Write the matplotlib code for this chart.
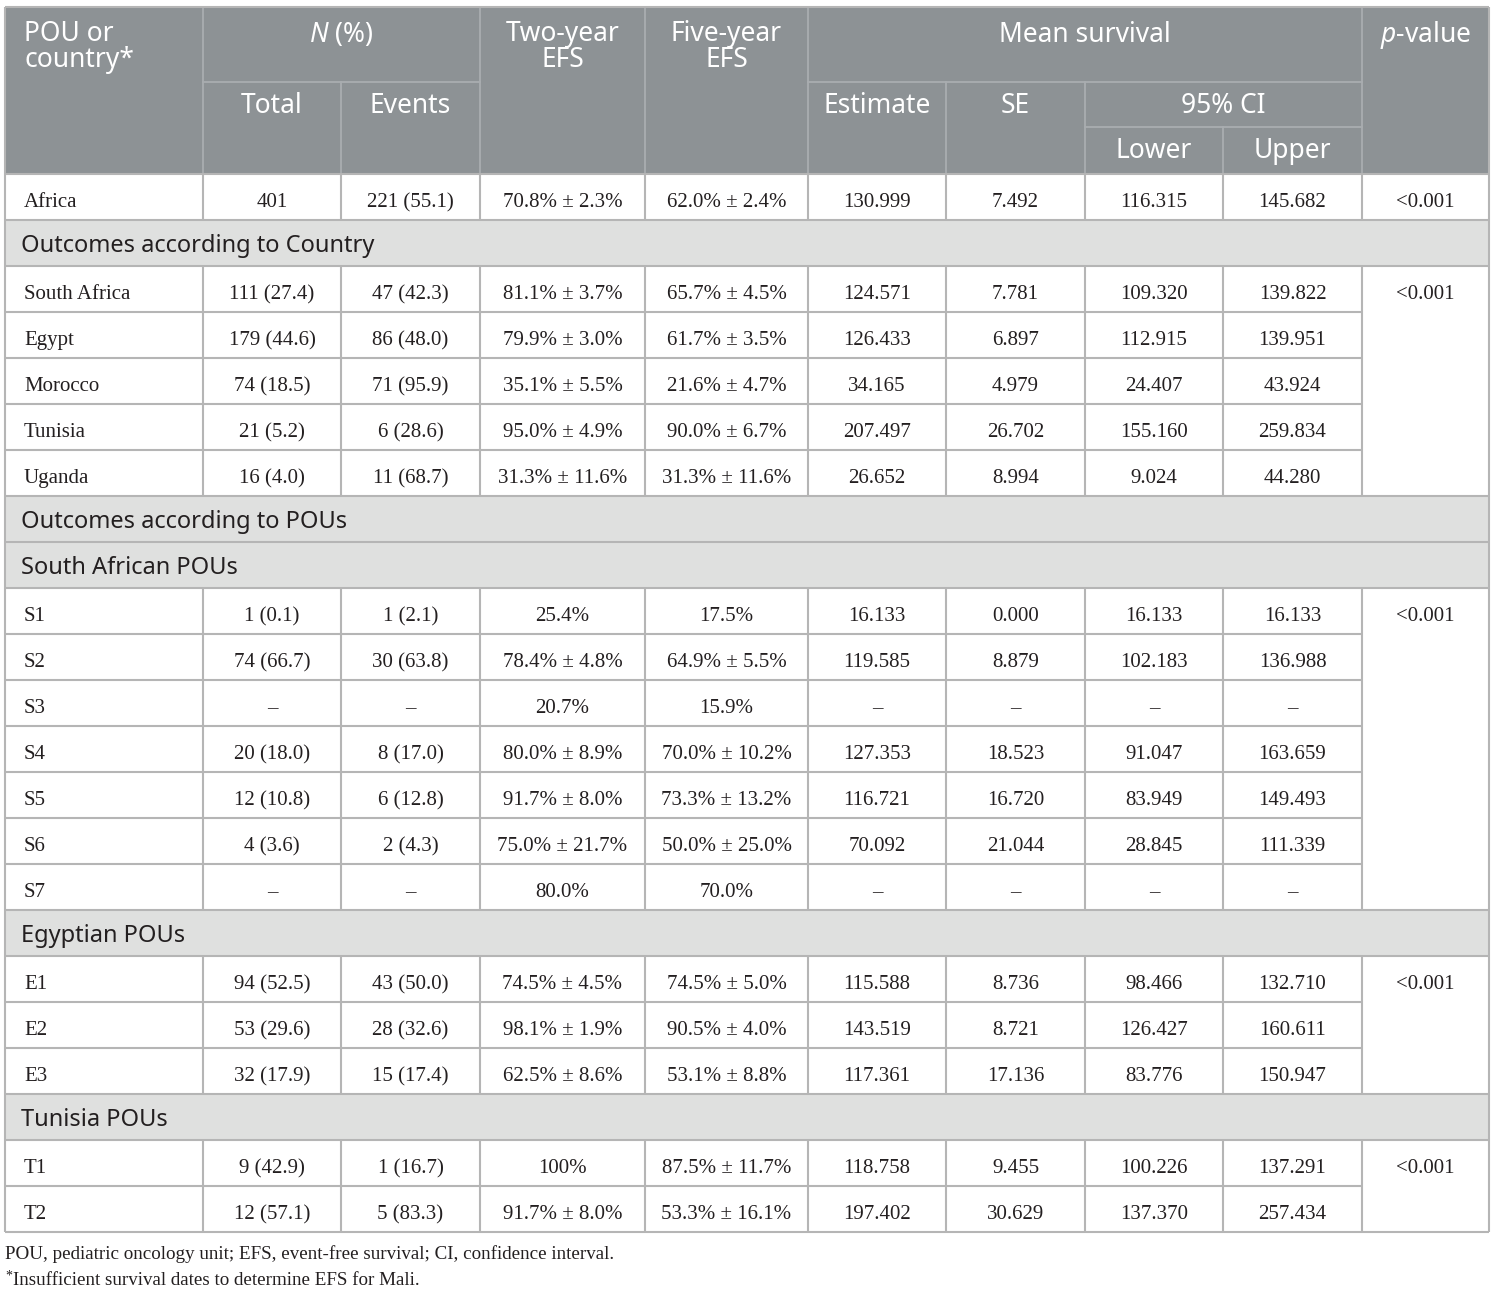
import matplotlib.pyplot as plt
from matplotlib.patches import Rectangle

plt.rcParams["mathtext.fontset"] = "custom"
plt.rcParams["mathtext.rm"] = "Noto Sans"
plt.rcParams["mathtext.it"] = "Noto Sans:italic"

# table data
units = ["Africa", "South Africa", "Egypt", "Morocco", "Tunisia", "Uganda",
         "S1", "S2", "S3", "S4", "S5", "S6", "S7", "E1", "E2", "E3", "T1", "T2"]
total = ["401", "111 (27.4)", "179 (44.6)", "74 (18.5)", "21 (5.2)", "16 (4.0)",
         "1 (0.1)", "74 (66.7)", "–", "20 (18.0)", "12 (10.8)", "4 (3.6)", "–",
         "94 (52.5)", "53 (29.6)", "32 (17.9)", "9 (42.9)", "12 (57.1)"]
events = ["221 (55.1)", "47 (42.3)", "86 (48.0)", "71 (95.9)", "6 (28.6)", "11 (68.7)",
          "1 (2.1)", "30 (63.8)", "–", "8 (17.0)", "6 (12.8)", "2 (4.3)", "–",
          "43 (50.0)", "28 (32.6)", "15 (17.4)", "1 (16.7)", "5 (83.3)"]
efs2 = ["70.8% ± 2.3%", "81.1% ± 3.7%", "79.9% ± 3.0%", "35.1% ± 5.5%", "95.0% ± 4.9%",
        "31.3% ± 11.6%", "25.4%", "78.4% ± 4.8%", "20.7%", "80.0% ± 8.9%", "91.7% ± 8.0%",
        "75.0% ± 21.7%", "80.0%", "74.5% ± 4.5%", "98.1% ± 1.9%", "62.5% ± 8.6%",
        "100%", "91.7% ± 8.0%"]
efs5 = ["62.0% ± 2.4%", "65.7% ± 4.5%", "61.7% ± 3.5%", "21.6% ± 4.7%", "90.0% ± 6.7%",
        "31.3% ± 11.6%", "17.5%", "64.9% ± 5.5%", "15.9%", "70.0% ± 10.2%", "73.3% ± 13.2%",
        "50.0% ± 25.0%", "70.0%", "74.5% ± 5.0%", "90.5% ± 4.0%", "53.1% ± 8.8%",
        "87.5% ± 11.7%", "53.3% ± 16.1%"]
estimate = ["130.999", "124.571", "126.433", "34.165", "207.497", "26.652",
            "16.133", "119.585", "–", "127.353", "116.721", "70.092", "–",
            "115.588", "143.519", "117.361", "118.758", "197.402"]
se = ["7.492", "7.781", "6.897", "4.979", "26.702", "8.994",
      "0.000", "8.879", "–", "18.523", "16.720", "21.044", "–",
      "8.736", "8.721", "17.136", "9.455", "30.629"]
ci_lower = ["116.315", "109.320", "112.915", "24.407", "155.160", "9.024",
            "16.133", "102.183", "–", "91.047", "83.949", "28.845", "–",
            "98.466", "126.427", "83.776", "100.226", "137.370"]
ci_upper = ["145.682", "139.822", "139.951", "43.924", "259.834", "44.280",
            "16.133", "136.988", "–", "163.659", "149.493", "111.339", "–",
            "132.710", "160.611", "150.947", "137.291", "257.434"]

# p-value groups: (first row, last row + 1, value)
p_groups = [(0, 1, "<0.001"), (1, 6, "<0.001"), (6, 13, "<0.001"),
            (13, 16, "<0.001"), (16, 18, "<0.001")]
# section titles placed before a data row
sections = {1: ["Outcomes according to Country"],
            6: ["Outcomes according to POUs", "South African POUs"],
            13: ["Egyptian POUs"],
            16: ["Tunisia POUs"]}

footnote1 = "POU, pediatric oncology unit; EFS, event-free survival; CI, confidence interval."
footnote2 = "Insufficient survival dates to determine EFS for Mali."

# layout (pixels)
W, H = 1494, 1292
col_x = [5, 203, 341, 480, 645, 808, 946, 1085, 1223, 1362, 1489]
top, head_bot = 7, 174
row_h = 46
header_bg = "#8d9295"
section_bg = "#dfe0df"
grid_c = "#b5b5b5"
head_line_c = "#a9adb0"
text_c = "#231f20"
serif = "Liberation Serif"
sans = "Noto Sans"

fig = plt.figure(figsize=(W / 100, H / 100), dpi=100)
ax = fig.add_axes([0, 0, 1, 1])
ax.set_xlim(0, W)
ax.set_ylim(H, 0)
ax.axis("off")

# header
ax.add_patch(Rectangle((col_x[0], top), col_x[-1] - col_x[0], head_bot - top,
                       facecolor=header_bg, edgecolor="none"))
hk = dict(color=head_line_c, lw=1.3)
for xv in [203, 480, 645, 808, 1362]:
    ax.plot([xv, xv], [top, head_bot], **hk)
for xv in [341, 946, 1085]:
    ax.plot([xv, xv], [82, head_bot], **hk)
ax.plot([1223, 1223], [127, head_bot], **hk)
ax.plot([203, 480], [82, 82], **hk)
ax.plot([808, 1362], [82, 82], **hk)
ax.plot([1085, 1362], [127, 127], **hk)

hf = dict(color="white", fontsize=19, family=sans, va="baseline", linespacing=0.9)


def head(x, y, s, ha="center"):
    # baseline of the last line sits at y
    ax.text(x, y, s, ha=ha, **hf)


head(24, 67, "POU or\ncountry*", ha="left")
head((203 + 480) / 2, 42, r"$N$ (%)")
head((480 + 645) / 2, 67, "Two-year\nEFS")
head((645 + 808) / 2, 67, "Five-year\nEFS")
head((808 + 1362) / 2, 42, "Mean survival")
head((1362 + 1489) / 2, 42, r"$p$-value")
head((203 + 341) / 2, 113, "Total")
head((341 + 480) / 2, 113, "Events")
head((808 + 946) / 2, 113, "Estimate")
head((946 + 1085) / 2, 113, "SE")
head((1085 + 1362) / 2, 113, "95% CI")
head((1085 + 1223) / 2, 158, "Lower")
head((1223 + 1362) / 2, 158, "Upper")

# body
gk = dict(color=grid_c, lw=1.5, solid_capstyle="butt")
bf = dict(fontsize=15, family=serif, color=text_c, va="baseline")
y = head_bot
row_top = {}
columns = [total, events, efs2, efs5, estimate, se, ci_lower, ci_upper]
for i, name in enumerate(units):
    for title in sections.get(i, []):
        ax.add_patch(Rectangle((col_x[0], y), col_x[-1] - col_x[0], row_h,
                               facecolor=section_bg, edgecolor="none"))
        ax.plot([col_x[0], col_x[-1]], [y, y], **gk)
        ax.text(21, y + 32, title, ha="left", va="baseline", fontsize=17,
                family=sans, color=text_c)
        y += row_h
    row_top[i] = y
    ax.text(24, y + 33, name, ha="left", **bf)
    for j, col in enumerate(columns):
        ax.text((col_x[j + 1] + col_x[j + 2]) / 2, y + 33, col[i], ha="center", **bf)
    ax.plot([col_x[0], col_x[-2]], [y, y], **gk)
    for xv in col_x[1:-1]:
        ax.plot([xv, xv], [y, y + row_h], **gk)
    y += row_h
bottom = y

for start, end, val in p_groups:
    y0 = row_top[start]
    ax.plot([col_x[-2], col_x[-1]], [y0, y0], **gk)
    ax.text((col_x[-2] + col_x[-1]) / 2, y0 + 33, val, ha="center", **bf)

# outer border
ax.plot([col_x[0], col_x[-1]], [bottom, bottom], **gk)
ax.plot([col_x[0], col_x[-1]], [top, top], **gk)
ax.plot([col_x[0], col_x[0]], [top, bottom], **gk)
ax.plot([col_x[-1], col_x[-1]], [top, bottom], **gk)

# footnotes
ff = dict(fontsize=13.7, family=serif, color=text_c, va="baseline", ha="left")
ax.text(5, 1259, footnote1, **ff)
ax.text(5, 1280, "*", fontsize=10, family=serif, color=text_c, va="baseline", ha="left")
ax.text(13, 1285, footnote2, **ff)

fig.savefig("out.png", dpi=100, facecolor="white")
